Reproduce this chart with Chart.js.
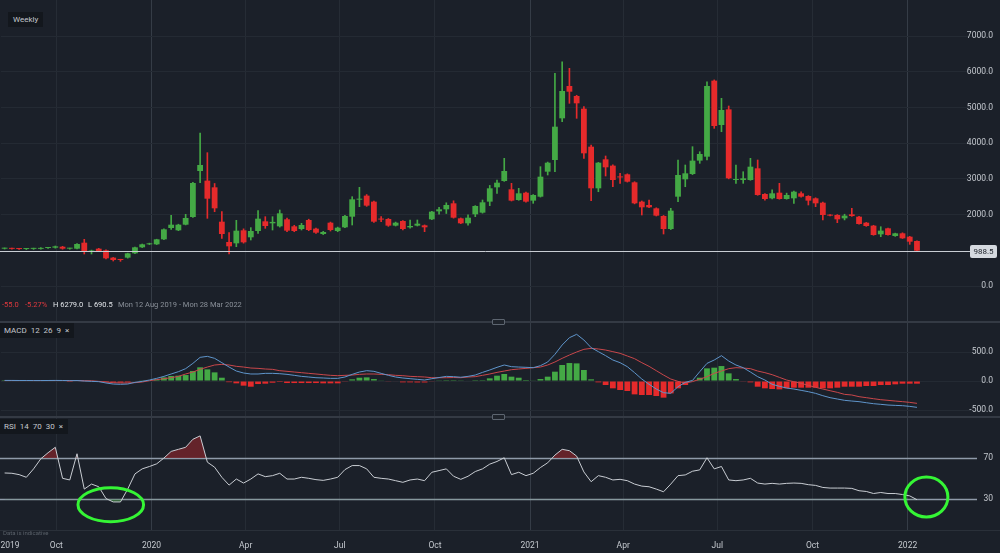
<!DOCTYPE html>
<html>
<head>
<meta charset="utf-8">
<script src="https://cdn.jsdelivr.net/npm/chart.js@4.4.1/dist/chart.umd.min.js"></script>
<style>
  html, body { margin:0; padding:0; background:#1b2029; }
  #wrap { position:relative; width:1000px; height:553px; background:#1b2029; overflow:hidden; font-family: Roboto, "Noto Sans", sans-serif; }
  canvas { position:absolute; left:0; }
  #cPrice { top:0; }
  #cMacd { top:323px; }
  #cRsi { top:418px; }
  .sep { position:absolute; left:0; width:1000px; height:2px; background:#343a44; }
  .handle { position:absolute; left:492px; width:11px; height:4px; border:1px solid #5d6570; border-radius:1px; background:#1f242c; }
  .tag { position:absolute; left:0; background:#13171d; color:#c3c7cd; font-size:8px; line-height:15px; padding:0 5px 0 4px; white-space:pre; }
  .info { position:absolute; top:300px; font-size:7.5px; line-height:10px; white-space:nowrap; }
</style>
</head>
<body>
<div id="wrap">
  <canvas id="cPrice" width="1000" height="321"></canvas>
  <canvas id="cMacd" width="1000" height="93"></canvas>
  <canvas id="cRsi" width="1000" height="135"></canvas>

  <div class="tag" style="left:8px;top:12px;line-height:15px;padding:0 5px;">Weekly</div>

  <div class="info" style="left:2px;color:#e0393e;">-55.0</div>
  <div class="info" style="left:25px;color:#e0393e;">-5.27%</div>
  <div class="info" style="left:53px;color:#e3e6ea;">H 6279.0</div>
  <div class="info" style="left:88px;color:#e3e6ea;">L 690.5</div>
  <div class="info" style="left:118px;color:#8a9099;">Mon 12 Aug 2019 - Mon 28 Mar 2022</div>

  <div class="sep" style="top:321px;"></div>
  <div class="handle" style="top:319px;"></div>
  <div class="tag" style="top:323px;">MACD  12  26  9  ×</div>

  <div class="sep" style="top:416px;"></div>
  <div class="handle" style="top:414px;"></div>
  <div class="tag" style="top:419px;">RSI  14  70  30  ×</div>

  <div style="position:absolute;left:3px;top:529px;font-size:6px;color:#596069;">Data is indicative</div>
</div>

<script>
// ---------------- DATA ----------------
const N_WEEKS = 137; // weekly slots from Mon 12 Aug 2019
const START = Date.UTC(2019, 7, 12);
const weekLabels = Array.from({length: N_WEEKS}, (_, i) => new Date(START + i * 7 * 864e5).toISOString().slice(0, 10));

const opens = [1045,1055,1040,1035,1040,1040,1064,1073,1100,1045,1045,1213,965,1045,999,794,745,794,915,1083,
  1167,1167,1307,1624,1559,1717,1932,3220,2950,2763,1801,1232,1195,1559,1363,1540,1811,1755,1671,1867,
  1671,1596,1848,1606,1456,1773,1540,1643,1941,2417,2530,2362,1867,1876,1690,1820,1643,1690,1699,1867,
  2091,2147,2315,1895,1755,2007,2054,2362,2763,2940,2707,2408,2613,2390,2501,3201,3528,4695,5600,5320,
  4965,3901,2735,3547,3370,3050,3127,2903,2362,2268,2175,1960,1596,2501,2987,3136,3510,3621,5750,4508,
  4946,2968,2968,2968,3295,2576,2455,2613,2436,2455,2595,2520,2455,2333,1990,1988,1895,2007,1941,1773,
  1690,1447,1615,1400,1475,1381,1260];
const highs = [1065,1065,1055,1050,1060,1075,1085,1120,1110,1060,1185,1307,1005,1055,1010,800,750,920,1090,1175,
  1200,1310,1600,1979,1730,2007,2900,4284,3733,2870,2082,1494,1839,1600,1634,2110,1941,1941,2128,1900,
  1700,1755,1870,1620,1530,1790,1650,1980,2501,2763,2560,2380,1941,1890,1790,1835,1848,1848,1710,2090,
  2200,2330,2385,1905,1990,2250,2408,2816,2968,3575,2875,2735,2630,2560,3341,3470,5955,6279,6095,5340,
  5021,3948,3460,3640,3390,3155,3140,2920,2380,2408,2190,1975,2175,3528,3388,3901,3760,5720,5770,5255,
  5040,3388,3200,3575,3528,2590,2690,2875,2600,2660,2640,2530,2470,2350,2000,2000,2010,2175,1950,1780,
  1700,1660,1620,1480,1490,1390,1265];
const lows = [1035,1030,1025,1020,1025,1030,1050,1060,1030,1030,1040,896,896,970,760,700,690.5,780,905,1075,
  1160,1160,1300,1587,1550,1710,1920,2893,1895,2080,1335,896,1101,1200,1288,1475,1615,1568,1650,1520,
  1520,1568,1550,1470,1440,1540,1520,1630,1708,2221,2230,1780,1800,1670,1680,1570,1620,1680,1521,1860,
  2010,2030,1900,1745,1700,1941,2040,2250,2595,2930,2380,2400,2350,2315,2490,3108,3201,4600,5115,4695,
  3575,2390,2640,3080,2780,2875,2910,2300,1988,2190,1960,1456,1580,2362,2780,3120,3435,3528,4415,4320,
  3000,2875,2875,2960,2540,2400,2440,2430,2430,2315,2490,2268,2221,1848,1960,1773,1850,1950,1730,1670,
  1420,1380,1420,1390,1330,1167,960];
const closes = [1050,1040,1035,1040,1048,1064,1075,1110,1045,1050,1176,961,975,980,775,728,728,915,1083,1167,
  1185,1307,1587,1717,1717,1904,2884,3388,2445,2175,1456,1111,1549,1223,1540,1885,1680,1795,2035,1550,
  1540,1708,1568,1493,1512,1568,1633,1960,2427,2445,2250,1801,1860,1690,1773,1596,1680,1745,1643,2082,
  2147,2268,1913,1755,1913,2240,2343,2735,2893,3220,2390,2595,2362,2548,3061,3453,4461,5460,5441,5115,
  3715,2735,3453,3323,2968,3040,2921,2315,2203,2203,1970,1596,2110,3108,3155,3510,3696,5600,4480,4928,
  3015,2987,3015,3341,2548,2436,2595,2436,2548,2641,2501,2390,2315,1988,1970,1867,1970,1960,1736,1680,
  1428,1550,1428,1475,1335,1241,988.5];

const macdLine = [10,10,9,9,8,8,9,10,9,6,8,0,-6,-11,-34,-52,-57,-52,-23,-6,
  17,46,80,121,161,213,304,408,425,391,316,241,172,138,121,121,132,132,126,115,
  98,80,69,57,52,46,46,69,115,155,178,167,132,98,69,52,40,29,17,40,
  60,80,75,65,80,103,149,190,236,276,247,241,236,230,264,328,460,621,747,805,
  707,575,506,437,362,316,247,144,34,-57,-138,-201,-213,-98,-23,10,161,304,362,437,
  345,276,230,155,75,17,-57,-92,-121,-138,-161,-184,-213,-253,-287,-310,-333,-345,-356,-374,
  -391,-402,-414,-420,-425,-437,-454];
const signalLine = [8,8,8,8,8,8,8,8,8,8,8,6,4,-6,-17,-29,-34,-34,-29,-17,
  6,23,40,57,80,121,155,201,241,276,287,276,253,241,224,218,207,201,178,167,
  155,144,132,121,109,98,92,98,103,115,121,121,115,109,98,92,80,75,69,57,
  57,57,60,57,69,75,98,121,149,172,195,207,218,230,241,276,328,391,448,500,
  546,563,552,534,506,477,431,385,316,253,178,103,34,-6,-35,-10,30,75,132,172,
  213,230,224,213,172,144,109,63,17,-12,-40,-75,-109,-138,-167,-195,-230,-241,-270,-287,
  -305,-322,-333,-345,-356,-368,-385];
const macdHist = [2,2,1,1,0,0,1,2,1,-2,0,-6,-10,-12,-20,-25,-28,-23,-8,5,
  10,29,63,86,92,103,172,236,201,149,57,-20,-40,-80,-98,-52,-46,-29,-17,-35,
  -35,-35,-35,-35,-40,-40,-40,-12,29,57,63,34,6,-6,-8,-23,-23,-25,-25,-6,
  5,15,15,5,8,15,15,46,92,121,75,57,17,11,34,75,161,276,310,304,
  190,29,-23,-69,-126,-155,-172,-230,-241,-241,-259,-287,-213,-126,-69,6,57,218,230,258,
  132,34,-11,-23,-98,-126,-138,-144,-126,-115,-115,-115,-115,-126,-126,-115,-98,-98,-98,-86,
  -86,-69,-69,-57,-46,-46,-46];
const rsi = [55.5,55.2,53.9,51.3,59.5,69.3,75.2,80.5,50.3,48.7,74.2,39.8,44.7,42.1,30.6,27.3,27.3,39.8,54.6,59.5,
  61.8,64.4,70,76.5,78.5,80.5,88.3,91.6,66,61.1,51.3,43.7,49.6,45.7,49.6,54.6,51.9,52.9,55.2,49.6,
  49.6,51.3,50.3,49,48.3,49.6,51.3,58.8,62.7,62.7,59.5,51.3,50.3,49.6,48,46.4,48.7,49.6,48,56.2,
  57.8,59.5,52.3,49.3,52.3,56.9,59.5,64.1,66.7,70.3,53.9,56.2,52.9,55.2,60.8,65.4,72.9,78.5,77.2,71.9,
  56.5,47.0,52.9,51.3,48.7,49.3,48.0,44.7,42.7,42.1,39.8,37.2,44.7,52.9,53.6,57.2,58.5,70.3,59.5,61.8,
  48.7,48.0,48.7,50.3,45.7,44.7,45.4,44.7,45.4,45.7,45.4,44.1,43.4,41.4,40.8,40.8,40.8,40.5,38.2,37.5,
  35.5,36.5,35.5,35.5,34.5,33.2,29.5];

// time-axis ticks (position in weeks from 12 Aug 2019)
const tickWeeks  = [0.75, 7.14, 20.29, 33.29, 46.29, 59.43, 72.57, 85.43, 98.43, 111.57, 124.71];
const tickLabels = ['2019','Oct','2020','Apr','Jul','Oct','2021','Apr','Jul','Oct','2022'];
const tickKinds  = ['none','q','y','q','q','q','y','q','q','q','y'];
const priceTicks = [0, 2000, 3000, 4000, 5000, 6000, 7000];
const macdTicks  = [-500, 0, 500];
const rsiLevels  = [30, 70];
// annotation ellipses (centre week, centre RSI, half-width in weeks, half-height in RSI units)
const ellipses = [
  {week: 14.66, value: 24.6, rw: 4.53, rh: 16.5},
  {week: 127.3, value: 32.1, rw: 2.97, rh: 19.5}
];

// ---------------- STYLE ----------------
const FONT = 'Roboto, "Noto Sans", sans-serif';
const GREEN = '#44a945', RED = '#e52a2b';
const LABEL = '#c5c9cf';
Chart.defaults.font.family = FONT;
Chart.defaults.animation = false;
const candleColors = closes.map((c, i) => c >= opens[i] ? GREEN : RED);

function noPad(s) { s.paddingLeft = 0; s.paddingRight = 0; s.paddingTop = 0; s.paddingBottom = 0; }
function gridColor(i) {
  const k = tickKinds[i];
  return k === 'y' ? '#353c46' : (k === 'q' ? '#262c35' : 'rgba(0,0,0,0)');
}
function timeAxis(showLabels) {
  return {
    type: 'linear', position: 'bottom', min: -0.5, max: N_WEEKS - 0.5, offset: false,
    afterBuildTicks: s => { s.ticks = tickWeeks.map(v => ({value: v})); },
    afterFit: s => { noPad(s); s.height = showLabels ? 23 : 0; },
    grid: { drawTicks: false, offset: false, color: c => gridColor(c.index), lineWidth: 1 },
    border: { display: false },
    ticks: { display: showLabels, autoSkip: false, maxRotation: 0, padding: 11, color: LABEL,
             font: {size: 8.5, family: FONT}, callback: (v, i) => tickLabels[i] }
  };
}
const catAxis = () => ({ type: 'category', labels: weekLabels, offset: true, display: false });
function valueAxis(min, max, ticks, fmt, gridOn) {
  return {
    position: 'right', min, max,
    afterBuildTicks: s => { s.ticks = ticks.map(v => ({value: v})); },
    afterFit: s => { noPad(s); s.width = 0; },
    grid: { display: gridOn, drawTicks: false, color: '#242a33' },
    border: { display: false },
    ticks: { mirror: true, padding: 0, color: LABEL, font: {size: 8.5, family: FONT}, callback: fmt }
  };
}
const baseOpts = () => ({
  responsive: false, animation: false, devicePixelRatio: 1,
  layout: { padding: { left: 1, right: 7, top: 0, bottom: 0 } },
  plugins: { legend: { display: false }, tooltip: { enabled: false } }
});

// ---------------- PRICE ----------------
const lastPricePlugin = {
  id: 'lastPrice',
  afterDatasetsDraw(chart) {
    const {ctx, scales: {y}} = chart;
    const v = closes[closes.length - 1];
    const py = Math.round(y.getPixelForValue(v)) + 0.5;
    ctx.save();
    ctx.strokeStyle = '#c9cdd3'; ctx.lineWidth = 1;
    ctx.beginPath(); ctx.moveTo(0, py); ctx.lineTo(971, py); ctx.stroke();
    ctx.fillStyle = '#d5d9df';
    ctx.beginPath();
    if (ctx.roundRect) ctx.roundRect(970, py - 6.5, 27, 13, 2); else ctx.rect(970, py - 6.5, 27, 13);
    ctx.fill();
    ctx.fillStyle = '#20252d'; ctx.font = '8px ' + FONT; ctx.textAlign = 'center'; ctx.textBaseline = 'middle';
    ctx.fillText(v.toFixed(1), 983.5, py + 0.5);
    ctx.restore();
  }
};
new Chart(document.getElementById('cPrice'), {
  type: 'bar',
  data: {
    labels: weekLabels,
    datasets: [
      { label: 'wick', data: lows.map((l, i) => [l, highs[i]]), backgroundColor: candleColors,
        barThickness: 1, grouped: false, order: 2 },
      { label: 'body', data: opens.map((o, i) => [o, closes[i]]), backgroundColor: candleColors,
        categoryPercentage: 1, barPercentage: 0.8, minBarLength: 1, grouped: false, order: 1 }
    ]
  },
  options: Object.assign(baseOpts(), {
    scales: {
      x: catAxis(),
      xq: timeAxis(false),
      y: valueAxis(-980, 8008, priceTicks, v => v.toFixed(1), true)
    }
  }),
  plugins: [lastPricePlugin]
});

// ---------------- MACD ----------------
new Chart(document.getElementById('cMacd'), {
  type: 'bar',
  data: {
    labels: weekLabels,
    datasets: [
      { type: 'line', label: 'MACD', data: macdLine, borderColor: '#5f95cb', borderWidth: 1,
        pointRadius: 0, tension: 0, order: 0 },
      { type: 'line', label: 'Signal', data: signalLine, borderColor: '#c9474b', borderWidth: 1,
        pointRadius: 0, tension: 0, order: 0 },
      { label: 'Hist', data: macdHist, backgroundColor: macdHist.map(v => v >= 0 ? GREEN : RED),
        categoryPercentage: 1, barPercentage: 0.8, grouped: false, order: 1 }
    ]
  },
  options: Object.assign(baseOpts(), {
    scales: {
      x: catAxis(),
      xq: timeAxis(false),
      y: valueAxis(-603, 1000, macdTicks, v => v.toFixed(1), true)
    }
  })
});

// ---------------- RSI ----------------
const rsiPlugin = {
  id: 'rsiDeco',
  beforeDatasetsDraw(chart) {
    const {ctx, chartArea, scales: {y}} = chart;
    ctx.save();
    ctx.strokeStyle = '#8f9aa9'; ctx.lineWidth = 1.3;
    rsiLevels.forEach(l => {
      const py = Math.round(y.getPixelForValue(l)) + 0.5;
      ctx.beginPath(); ctx.moveTo(0, py); ctx.lineTo(chartArea.right - 16, py); ctx.stroke();
    });
    ctx.strokeStyle = '#2a3039'; ctx.lineWidth = 1;
    ctx.beginPath(); ctx.moveTo(0, chartArea.bottom + 0.5); ctx.lineTo(1000, chartArea.bottom + 0.5); ctx.stroke();
    ctx.restore();
  },
  afterDraw(chart) {
    const {ctx, scales: {xq, y}} = chart;
    ctx.save();
    ctx.strokeStyle = '#35f535'; ctx.lineWidth = 3;
    ellipses.forEach(e => {
      const cx = xq.getPixelForValue(e.week), cy = y.getPixelForValue(e.value);
      const rx = Math.abs(xq.getPixelForValue(e.week + e.rw) - cx);
      const ry = Math.abs(y.getPixelForValue(e.value + e.rh) - cy);
      ctx.beginPath(); ctx.ellipse(cx, cy, rx, ry, 0, 0, Math.PI * 2); ctx.stroke();
    });
    ctx.restore();
  }
};
new Chart(document.getElementById('cRsi'), {
  type: 'line',
  data: {
    labels: weekLabels,
    datasets: [
      { label: 'RSI', data: rsi, borderColor: '#c9cdd3', borderWidth: 1, pointRadius: 0, tension: 0,
        fill: { target: {value: 70}, above: 'rgba(150,38,44,0.6)', below: 'rgba(0,0,0,0)' } },
      { label: 'RSI low', data: rsi, borderColor: 'rgba(0,0,0,0)', borderWidth: 0, pointRadius: 0, tension: 0,
        fill: { target: {value: 30}, above: 'rgba(0,0,0,0)', below: 'rgba(60,140,60,0.55)' } }
    ]
  },
  options: Object.assign(baseOpts(), {
    scales: {
      x: catAxis(),
      xq: timeAxis(true),
      y: valueAxis(0, 109, rsiLevels, v => String(v), false)
    }
  }),
  plugins: [rsiPlugin]
});
</script>
</body>
</html>
